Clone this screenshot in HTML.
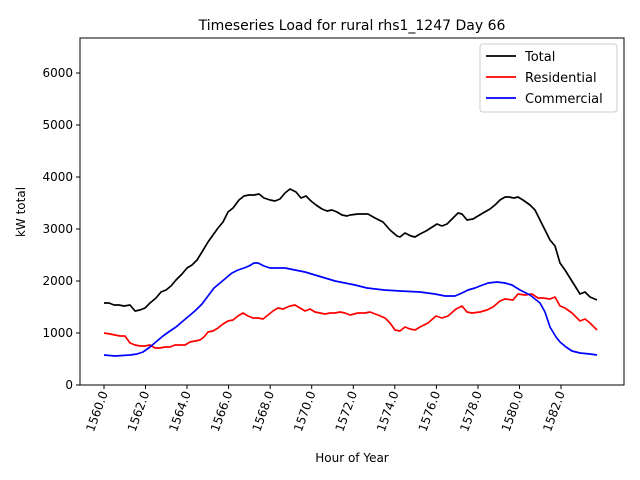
<!DOCTYPE html>
<html><head><style>
body{margin:0;background:#fff;}
svg{display:block;font-family:"DejaVu Sans","Liberation Sans",sans-serif;}
</style></head><body>
<svg width="640" height="480" viewBox="0 0 640 480">
<rect width="640" height="480" fill="#fff"/>
<text x="352" y="30" font-size="14" text-anchor="middle">Timeseries Load for rural rhs1_1247  Day 66</text>
<g fill="none" stroke-width="1.7" stroke-linejoin="round">
<polyline stroke="#000" points="104,303 109,303 114,305 119,305 124,306 130,305 135,311 140,310 145,308 150,303 156,298 161,292 166,290 171,286 176,280 182,274 187,268 192,265 197,260 202,252 208,242 213,235 218,228 223,222 228,212 233,208 239,200 244,196 249,195 254,195 259,194 264,198 270,200 275,201 280,199 285,193 290,189 296,192 301,198 306,196 311,201 316,205 322,209 327,211 332,210 337,212 342,215 347,216 350,215 358,214 368,214 375,218 383,222 390,230 397,236 400,237 405,233 411,236 415,237 420,234 426,231 437,224 442,226 447,224 452,219 458,213 462,214 467,220 473,219 478,216 483,213 490,209 495,205 500,200 505,197 509,197 514,198 518,197 523,200 530,205 535,210 540,220 545,230 550,240 555,246 560,263 565,270 570,278 580,294 585,292 590,297 597,300"/>
<polyline stroke="#f00" points="104,333 110,334 115,335 120,336 125,336 130,343 135,345 140,346 145,346 150,345 155,348 160,348 165,347 170,347 175,345 180,345 185,345 190,342 195,341 200,340 204,337 208,332 213,331 218,328 223,324 228,321 233,320 238,316 243,313 248,316 253,318 258,318 263,319 268,315 273,311 278,308 283,309 290,306 295,305 300,308 305,311 310,309 315,312 320,313 325,314 330,313 335,313 340,312 345,313 350,315 358,313 365,313 370,312 378,315 385,318 390,323 395,330 400,331 405,327 410,329 415,330 420,327 428,323 436,316 442,318 448,316 456,309 462,306 467,312 472,313 480,312 487,310 493,307 500,301 505,299 513,300 518,294 525,295 532,294 538,298 543,298 550,299 555,297 560,306 565,308 572,313 580,321 585,319 590,323 597,330"/>
<polyline stroke="#00f" points="104,355 115,356 130,355 137,354 143,352 150,347 157,341 163,336 170,331 176,327 183,321 189,316 196,310 202,304 208,296 214,288 220,283 226,278 232,273 238,270 244,268 249,266 254,263 258,263 264,266 270,268 275,268 285,268 295,270 305,272 315,275 325,278 335,281 345,283 355,285 367,288 384,290 400,291 420,292 435,294 445,296 455,296 462,293 468,290 475,288 480,286 488,283 497,282 505,283 512,285 520,290 530,295 540,303 545,312 550,327 556,337 560,342 566,347 572,351 580,353 590,354 597,355"/>
</g>
<rect x="80" y="38" width="544" height="347" fill="none" stroke="#000" stroke-width="1"/>
<g stroke="#000" stroke-width="1">
<line x1="76" y1="385" x2="80" y2="385"/><line x1="76" y1="333" x2="80" y2="333"/><line x1="76" y1="281" x2="80" y2="281"/><line x1="76" y1="229" x2="80" y2="229"/><line x1="76" y1="177" x2="80" y2="177"/><line x1="76" y1="125" x2="80" y2="125"/><line x1="76" y1="73" x2="80" y2="73"/>
<line x1="104" y1="385" x2="104" y2="389"/><line x1="145.5" y1="385" x2="145.5" y2="389"/><line x1="187" y1="385" x2="187" y2="389"/><line x1="228.6" y1="385" x2="228.6" y2="389"/><line x1="270.2" y1="385" x2="270.2" y2="389"/><line x1="311.7" y1="385" x2="311.7" y2="389"/><line x1="353.3" y1="385" x2="353.3" y2="389"/><line x1="394.8" y1="385" x2="394.8" y2="389"/><line x1="436.4" y1="385" x2="436.4" y2="389"/><line x1="478" y1="385" x2="478" y2="389"/><line x1="519.5" y1="385" x2="519.5" y2="389"/><line x1="561" y1="385" x2="561" y2="389"/>
</g>
<g font-size="12" text-anchor="end">
<text x="73" y="389">0</text><text x="73" y="337">1000</text><text x="73" y="285">2000</text><text x="73" y="233">3000</text><text x="73" y="181">4000</text><text x="73" y="129">5000</text><text x="73" y="77">6000</text>
</g>
<g font-size="12" text-anchor="end">
<text transform="translate(108,393) rotate(-70)">1560.0</text>
<text transform="translate(149.5,393) rotate(-70)">1562.0</text>
<text transform="translate(191,393) rotate(-70)">1564.0</text>
<text transform="translate(232.6,393) rotate(-70)">1566.0</text>
<text transform="translate(274.2,393) rotate(-70)">1568.0</text>
<text transform="translate(315.7,393) rotate(-70)">1570.0</text>
<text transform="translate(357.3,393) rotate(-70)">1572.0</text>
<text transform="translate(398.8,393) rotate(-70)">1574.0</text>
<text transform="translate(440.4,393) rotate(-70)">1576.0</text>
<text transform="translate(482,393) rotate(-70)">1578.0</text>
<text transform="translate(523.5,393) rotate(-70)">1580.0</text>
<text transform="translate(565,393) rotate(-70)">1582.0</text>
</g>
<text x="352" y="462" font-size="12" text-anchor="middle">Hour of Year</text>
<text transform="translate(25,212) rotate(-90)" font-size="12" text-anchor="middle">kW total</text>
<rect x="480" y="44" width="137" height="68" rx="3" fill="#fff" stroke="#ccc"/>
<line x1="486" y1="56" x2="516" y2="56" stroke="#000" stroke-width="1.7"/>
<line x1="486" y1="77" x2="516" y2="77" stroke="#f00" stroke-width="1.7"/>
<line x1="486" y1="98" x2="516" y2="98" stroke="#00f" stroke-width="1.7"/>
<g font-size="13"><text x="525" y="61">Total</text><text x="525" y="82">Residential</text><text x="525" y="103">Commercial</text></g>
</svg>
</body></html>
